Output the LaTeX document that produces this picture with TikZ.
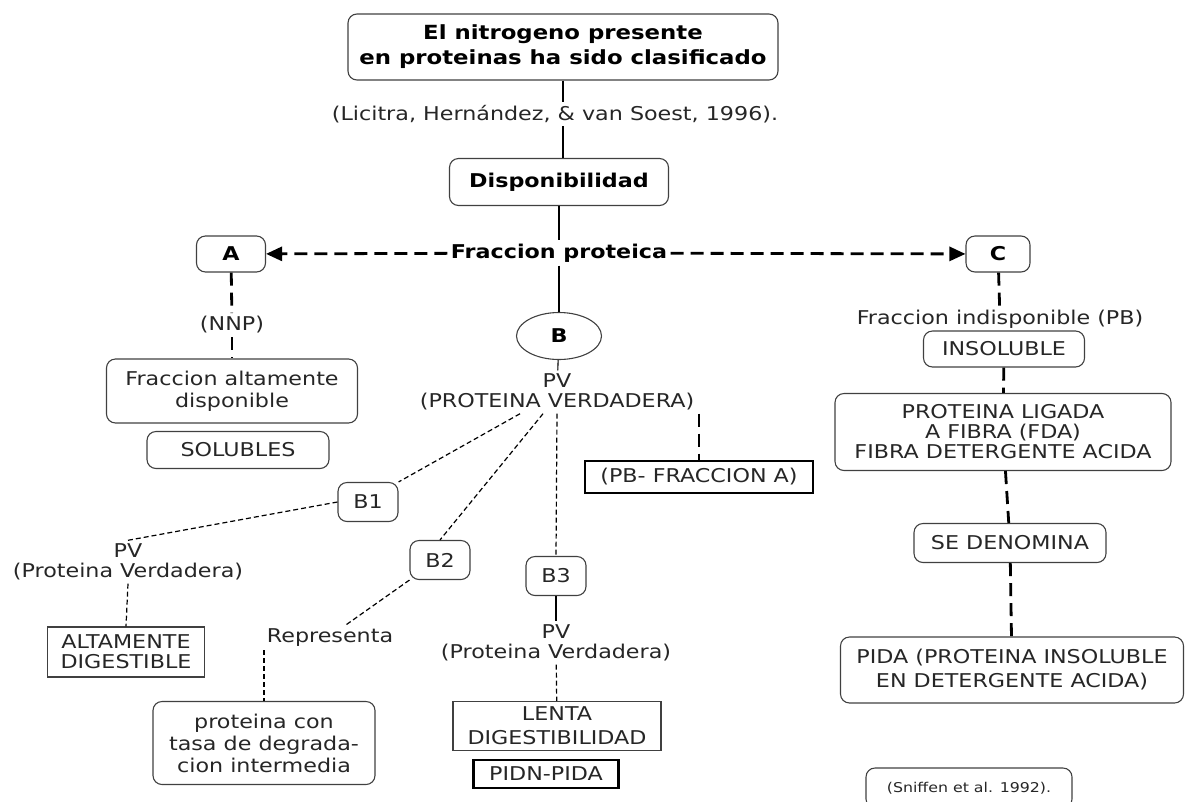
\documentclass[tikz,border=0pt]{standalone}
\usepackage{fontspec}
\setmainfont{DejaVu Sans}[FakeStretch=1.17]
\usetikzlibrary{shapes.geometric,arrows.meta}

\tikzset{
	every node/.style={font=\fontsize{19}{20}\selectfont, align=center, text=black!85},
	bold/.style={font=\bfseries\fontsize{19}{20}\selectfont, text=black},
	rbox/.style={draw=black!75, line width=1.1pt, rounded corners=9pt, inner sep=2pt},
	sbox/.style={draw=black!75, line width=1.1pt, inner sep=2pt},
	thickbox/.style={draw=black, line width=2.4pt, inner sep=2pt},
	thickdash/.style={line width=2.8pt, dash pattern=on 13pt off 7pt},
	thindash/.style={line width=1.2pt, dash pattern=on 5pt off 3pt},
	solidline/.style={line width=1.1pt}
}

\begin{document}
\begin{tikzpicture}[x=1pt, y=-1pt]
	\useasboundingbox (0,0) rectangle (1185,801);

	% top part
	\node[rbox, bold, font=\bfseries\fontsize{19.5}{25}\selectfont, minimum width=430, minimum height=66] (top) at (563,47) {El nitrogeno presente\\en proteinas ha sido clasificado};
	\node (cita) at (555,114) {(Licitra, Hernández, \& van Soest, 1996).};
	\node[rbox, bold, minimum width=219, minimum height=47] (disp) at (559,182) {Disponibilidad};
	\node[bold] (frac) at (559,253) {Fraccion proteica};
	\node[rbox, bold, minimum width=69, minimum height=36] (A) at (231,254) {A};
	\node[rbox, bold, minimum width=64, minimum height=36] (C) at (998,254) {C};
	\draw[line width=2.4pt] (top.south) -- (cita.north -| top.south);
	\draw[line width=2.4pt] (cita.south -| top.south) -- (disp.north -| top.south);
	\draw[solidline] (disp) -- (frac);
	\draw[thickdash, -{Triangle[length=16pt, width=14pt]}] (frac) -- (A);
	\draw[thickdash, -{Triangle[length=16pt, width=14pt]}] (frac) -- (C);

	% fraccion A
	\node (nnp) at (232,325) {(NNP)};
	\node[rbox, font=\fontsize{19}{22}\selectfont, minimum width=251, minimum height=64] (altdisp) at (232,391) {Fraccion altamente\\disponible};
	\node[rbox, minimum width=182, minimum height=37] (sol) at (238,450) {SOLUBLES};
	\draw[thickdash] (A) -- (nnp);
	\draw[thickdash] (nnp) -- (altdisp);

	% fraccion B
	\node[ellipse, draw=black!75, line width=1.1pt, bold, minimum width=85, minimum height=47] (B) at (559,336) {B};
	\node (pvB) at (557,392) {PV\\(PROTEINA VERDADERA)};
	\node[thickbox, minimum width=228, minimum height=32] (pbA) at (699,477) {(PB- FRACCION A)};
	\node[rbox, minimum width=60, minimum height=39] (B1) at (368,502) {B1};
	\node[rbox, minimum width=60, minimum height=39] (B2) at (440,560) {B2};
	\node[rbox, minimum width=60, minimum height=39] (B3) at (556,576) {B3};
	\draw[solidline] (frac) -- (B);
	\draw[solidline] (B) -- (pvB);
	\draw[thickdash] (pbA.north |- pvB.south east) -- (pbA.north);
	\draw[thindash] ([xshift=-37pt]pvB.south) -- (B1.north east);
	\draw[thindash] ([xshift=-14pt]pvB.south) -- (B2.north);
	\draw[thindash] (pvB.south) -- (B3.north);

	% B1
	\node (pv1) at (128,562) {PV\\(Proteina Verdadera)};
	\node[sbox, minimum width=157, minimum height=50] (altdig) at (126,652) {ALTAMENTE\\DIGESTIBLE};
	\draw[thindash] (B1.west) -- (pv1.north);
	\draw[thindash] (pv1.south) -- (altdig.north);

	% B2
	\node (repr) at (330,638) {Representa};
	\node[rbox, font=\fontsize{19}{22}\selectfont, minimum width=222, minimum height=83] (tasa) at (264,743) {proteina con\\tasa de degrada-\\cion intermedia};
	\draw[thindash] (B2.south west) -- ([xshift=15pt]repr.north);
	\draw[thindash] (tasa.north |- repr.south) -- (tasa.north);

	% B3
	\node (pv3) at (556,643) {PV\\(Proteina Verdadera)};
	\node[sbox, font=\fontsize{19}{24}\selectfont, minimum width=208, minimum height=49] (lenta) at (557,726) {LENTA\\DIGESTIBILIDAD};
	\node[thickbox, minimum width=145, minimum height=28] (pidn) at (546,774) {PIDN-PIDA};
	\draw[solidline] (B3) -- (pv3);
	\draw[thindash] (pv3) -- (lenta);

	% fraccion C
	\node (fracind) at (1000,319) {Fraccion indisponible (PB)};
	\node[rbox, minimum width=161, minimum height=36] (insol) at (1004,349) {INSOLUBLE};
	\node[rbox, font=\fontsize{19}{20}\selectfont, minimum width=336, minimum height=77] (ligada) at (1003,432) {PROTEINA LIGADA\\A FIBRA (FDA)\\FIBRA DETERGENTE ACIDA};
	\node[rbox, minimum width=192, minimum height=39] (denom) at (1010,543) {SE DENOMINA};
	\node[rbox, font=\fontsize{19}{24}\selectfont, minimum width=343, minimum height=66] (pida) at (1012,670) {PIDA (PROTEINA INSOLUBLE\\EN DETERGENTE ACIDA)};
	\node[rbox, font=\fontsize{13.5}{14}\selectfont, minimum width=206, minimum height=40] (snif) at (969,788) {(Sniffen et al. 1992).};
	\draw[thickdash] (C) -- (fracind);
	\draw[thickdash] (insol) -- (ligada);
	\draw[thickdash] (ligada) -- (denom);
	\draw[thickdash] (denom) -- (pida);
\end{tikzpicture}
\end{document}
